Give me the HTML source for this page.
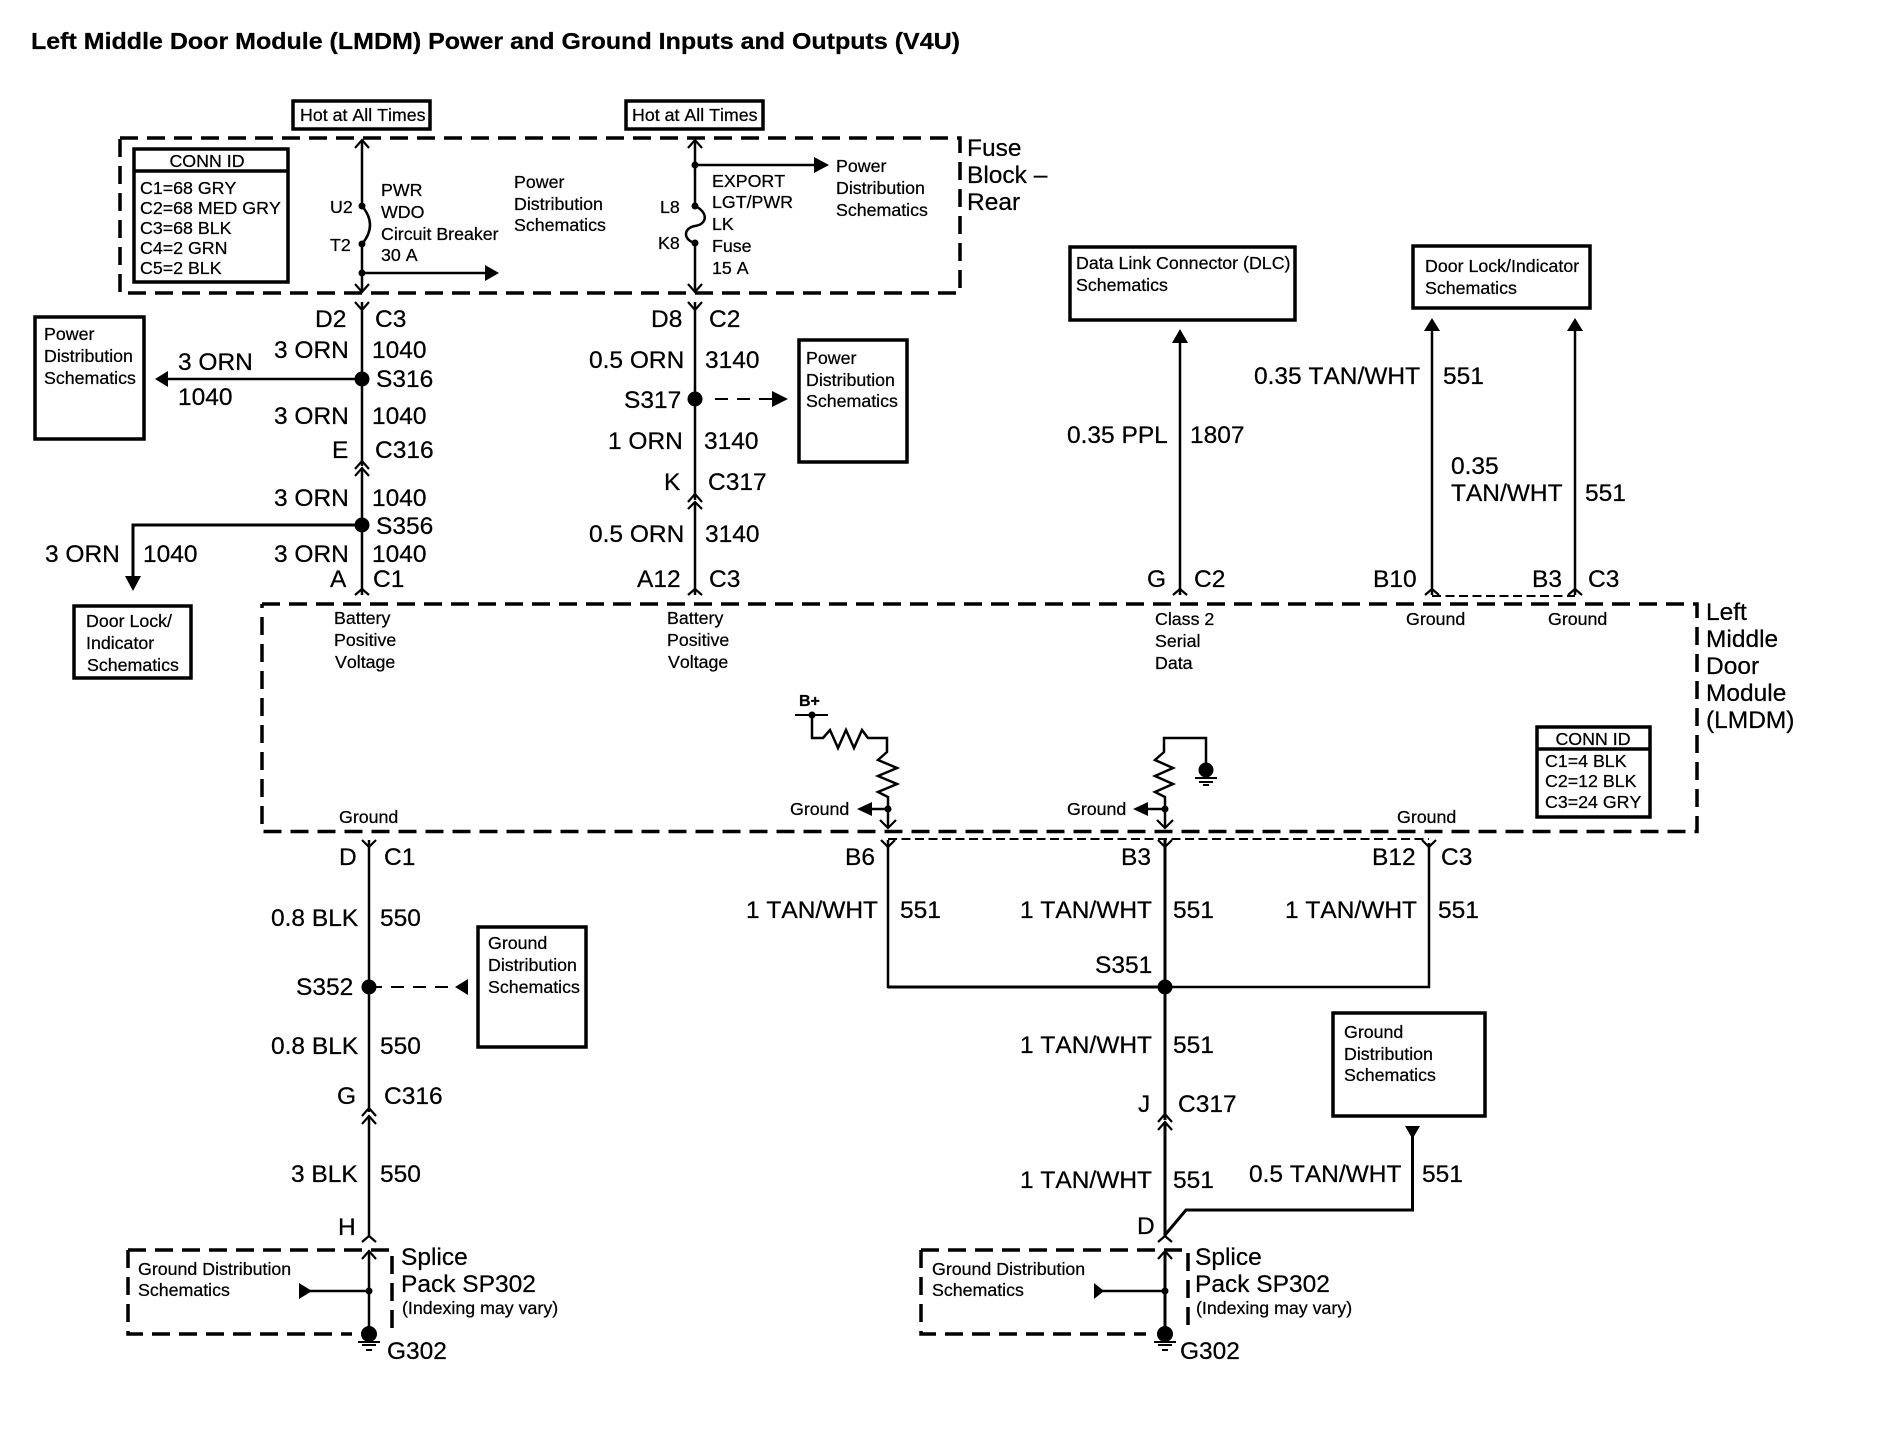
<!DOCTYPE html>
<html><head><meta charset="utf-8"><title>LMDM Power and Ground</title>
<style>
html,body{margin:0;padding:0;background:#fff}
svg{display:block}
text{font-family:"Liberation Sans",sans-serif;fill:#000;font-kerning:none;stroke:#000;stroke-width:.25px}
.b text{font-size:24.5px}
.s text{font-size:17.8px}
</style></head><body>
<svg width="1894" height="1440" viewBox="0 0 1894 1440" xmlns="http://www.w3.org/2000/svg">
<rect width="1894" height="1440" fill="#fff"/>
<text x="31" y="49" font-size="23" font-weight="bold" textLength="929" lengthAdjust="spacingAndGlyphs">Left Middle Door Module (LMDM) Power and Ground Inputs and Outputs (V4U)</text>

<!-- dashed boxes -->
<g fill="none" stroke="#000" stroke-width="3.5" stroke-dasharray="18 9">
<path d="M120 138H960V293H120V138"/>
<path d="M262 604H1697V831.5H262V604"/>
<path d="M128 1250H392V1334M128 1250V1334H352"/>
<path d="M921 1250H1188V1334M921 1250V1334H1146"/>
</g>
<path d="M888 839H1429M1432 596H1575" fill="none" stroke="#000" stroke-width="2" stroke-dasharray="9 4.5"/>

<!-- boxes -->
<g fill="none" stroke="#000" stroke-width="3.5">
<rect x="293" y="101" width="137" height="28"/>
<rect x="626" y="101" width="137" height="28"/>
<rect x="134" y="149" width="154" height="133"/>
<path d="M134 171H288"/>
<rect x="35" y="317" width="109" height="122"/>
<rect x="799" y="340" width="108" height="122"/>
<rect x="1070" y="247" width="225" height="73"/>
<rect x="1413" y="246" width="177" height="62"/>
<rect x="1537" y="727" width="113" height="90"/>
<path d="M1537 749H1650"/>
<rect x="478" y="927" width="108" height="120"/>
<rect x="1333" y="1013" width="152" height="103"/>
</g>

<!-- wires -->
<g fill="none" stroke="#000" stroke-width="2.5">
<path d="M362 140V206Q378 225 362 244V292M362 302V466M362 468V595"/>
<path d="M362 273H487"/>
<path d="M362 379H168"/>
<path d="M362 525H133V578" stroke-width="3"/>
<path d="M695 140V206C708 212 708 224 695 226C683 228 683 240 695 243V292M695 302V500M695 502V595"/>
<path d="M695 165H816"/>
<path d="M1180 341V595M1432 330V595M1575 330V595"/>
<path d="M369 840V1112M369 1116V1236M369 1251V1334"/>
<path d="M369 1291H301"/>
<path d="M1165 840V1120M1165 1122V1236M1165 1251V1334" stroke-width="3"/>
<path d="M1165 1291H1096"/>
<path d="M888 840V987H1429V843" stroke-width="2.5"/>
<path d="M1165 987H888" stroke-width="3"/>
<path d="M1165 1235L1186 1210H1412.5V1128" stroke-width="3"/>
<path d="M795 715H828" stroke-width="2"/>
<path d="M812 715V738H823L830 730L838 748L846 730L854 748L862 730L868 738H887V752L878 760L897 768L878 776L897 784L878 792L888 797V828" stroke-width="2.5"/>
<path d="M888 809H870"/>
<path d="M1206 763V738H1164V752L1155 760L1173 768L1155 776L1173 784L1155 792L1165 797V828" stroke-width="2.5"/>
<path d="M1165 809H1146"/>
</g>
<path d="M715 399H772M369 987H455" fill="none" stroke="#000" stroke-width="2" stroke-dasharray="13 9"/>
<path d="M1195 778H1217M1199 782H1213M1203 785H1209M358 1342H380M362 1345H376M366 1350H372M1154 1342H1176M1158 1345H1172M1162 1350H1168" fill="none" stroke="#000" stroke-width="2"/>

<!-- chevrons -->
<g fill="none" stroke="#000" stroke-width="2.2">
<path d="M355 148L362 140L369 148M355 284L362 292L369 284M355 302L362 310L369 302M355 469L362 461L369 469M355 476L362 468L369 476M355 595L362 589L369 595"/>
<path d="M688 148L695 140L702 148M688 284L695 292L702 284M688 302L695 310L702 302M688 502L695 494L702 502M688 509L695 502L702 509M688 595L695 589L702 595"/>
<path d="M1173 595L1180 589L1187 595M1425 595L1432 589L1439 595M1568 595L1575 589L1582 595"/>
<path d="M362 840L369 847L376 840M362 1116L369 1108L376 1116M362 1124L369 1116L376 1124M362 1242L369 1236L376 1242M362 1259L369 1251L376 1259"/>
<path d="M881 840L888 847L895 840M1158 840L1165 847L1172 840M1422 840L1429 847L1436 840M880 820L888 828L896 820M1157 820L1165 828L1173 820"/>
<path d="M1158 1122L1165 1114L1172 1122M1158 1130L1165 1122L1172 1130M1158 1242L1165 1236L1172 1242M1158 1259L1165 1251L1172 1259"/>
</g>

<!-- arrowheads -->
<g fill="#000">
<path d="M499 273L485 265V281ZM829 165L814 157V173ZM155 379L168 371V387ZM133 591L125 576H141ZM788 399L772 391V407Z"/>
<path d="M1180 329L1172 343H1188ZM1432 318L1424 331H1440ZM1575 318L1567 331H1583Z"/>
<path d="M455 987L468 979V995ZM312 1291L299 1283V1299ZM1104 1291L1094 1283V1299ZM1412.5 1139L1405 1126H1420Z"/>
<path d="M857 809L872 802V816ZM1133 809L1148 802V816Z"/>
<circle cx="362" cy="379" r="7.5"/><circle cx="362" cy="525" r="7.5"/><circle cx="695" cy="399" r="7.5"/>
<circle cx="369" cy="987" r="7.5"/><circle cx="1165" cy="987" r="7.5"/>
<circle cx="369" cy="1334" r="8"/><circle cx="1165" cy="1334" r="8"/><circle cx="1206" cy="770" r="7.5"/>
<circle cx="362" cy="206" r="3.5"/><circle cx="362" cy="244" r="3.5"/><circle cx="362" cy="273" r="3.5"/>
<circle cx="695" cy="206" r="3.5"/><circle cx="695" cy="243" r="3.5"/><circle cx="695" cy="165" r="3.5"/>
<circle cx="812" cy="715" r="3.5"/><circle cx="888" cy="809" r="3.5"/><circle cx="1165" cy="809" r="3.5"/>
<circle cx="369" cy="1291" r="3.5"/><circle cx="1165" cy="1291" r="3.5"/>
</g>

<!-- large text -->
<g class="b">
<text x="967" y="156">Fuse</text><text x="967" y="183">Block –</text><text x="967" y="210">Rear</text>
<text x="315" y="327">D2</text><text x="375" y="327">C3</text>
<text x="274" y="358">3 ORN</text><text x="372" y="358">1040</text>
<text x="178" y="370">3 ORN</text><text x="178" y="405">1040</text>
<text x="376" y="387">S316</text>
<text x="274" y="424">3 ORN</text><text x="372" y="424">1040</text>
<text x="332" y="458">E</text><text x="375" y="458">C316</text>
<text x="274" y="506">3 ORN</text><text x="372" y="506">1040</text>
<text x="376" y="534">S356</text>
<text x="45" y="562">3 ORN</text><text x="143" y="562">1040</text>
<text x="274" y="562">3 ORN</text><text x="372" y="562">1040</text>
<text x="330" y="587">A</text><text x="373" y="587">C1</text>

<text x="651" y="327">D8</text><text x="709" y="327">C2</text>
<text x="589" y="368">0.5 ORN</text><text x="705" y="368">3140</text>
<text x="624" y="408">S317</text>
<text x="608" y="449">1 ORN</text><text x="704" y="449">3140</text>
<text x="664" y="490">K</text><text x="708" y="490">C317</text>
<text x="589" y="542">0.5 ORN</text><text x="705" y="542">3140</text>
<text x="637" y="587">A12</text><text x="709" y="587">C3</text>

<text x="1067" y="443">0.35 PPL</text><text x="1190" y="443">1807</text>
<text x="1254" y="384">0.35 TAN/WHT</text><text x="1443" y="384">551</text>
<text x="1451" y="474">0.35</text><text x="1451" y="501">TAN/WHT</text><text x="1585" y="501">551</text>
<text x="1147" y="587">G</text><text x="1194" y="587">C2</text>
<text x="1373" y="587">B10</text><text x="1532" y="587">B3</text><text x="1588" y="587">C3</text>

<text x="1706" y="620">Left</text><text x="1706" y="647">Middle</text><text x="1706" y="674">Door</text><text x="1706" y="701">Module</text><text x="1706" y="728">(LMDM)</text>

<text x="339" y="865">D</text><text x="384" y="865">C1</text>
<text x="271" y="926">0.8 BLK</text><text x="380" y="926">550</text>
<text x="296" y="995">S352</text>
<text x="271" y="1054">0.8 BLK</text><text x="380" y="1054">550</text>
<text x="337" y="1104">G</text><text x="384" y="1104">C316</text>
<text x="291" y="1182">3 BLK</text><text x="380" y="1182">550</text>
<text x="338" y="1235">H</text>
<text x="401" y="1265">Splice</text><text x="401" y="1292">Pack SP302</text>
<text x="387" y="1359">G302</text>

<text x="845" y="865">B6</text><text x="1121" y="865">B3</text><text x="1372" y="865">B12</text><text x="1441" y="865">C3</text>
<text x="746" y="918">1 TAN/WHT</text><text x="900" y="918">551</text>
<text x="1020" y="918">1 TAN/WHT</text><text x="1173" y="918">551</text>
<text x="1285" y="918">1 TAN/WHT</text><text x="1438" y="918">551</text>
<text x="1095" y="973">S351</text>
<text x="1020" y="1053">1 TAN/WHT</text><text x="1173" y="1053">551</text>
<text x="1138" y="1112">J</text><text x="1178" y="1112">C317</text>
<text x="1020" y="1188">1 TAN/WHT</text><text x="1173" y="1188">551</text>
<text x="1249" y="1182">0.5 TAN/WHT</text><text x="1422" y="1182">551</text>
<text x="1137" y="1234">D</text>
<text x="1195" y="1265">Splice</text><text x="1195" y="1292">Pack SP302</text>
<text x="1180" y="1359">G302</text>
</g>

<!-- small text -->
<g class="s">
<text x="300" y="121">Hot at All Times</text><text x="632" y="121">Hot at All Times</text>
<text x="207" y="167" text-anchor="middle">CONN ID</text>
<text x="140" y="194">C1=68 GRY</text><text x="140" y="214">C2=68 MED GRY</text><text x="140" y="234">C3=68 BLK</text><text x="140" y="254">C4=2 GRN</text><text x="140" y="274">C5=2 BLK</text>
<text x="330" y="213">U2</text><text x="330" y="251">T2</text>
<text x="381" y="196">PWR</text><text x="381" y="218">WDO</text><text x="381" y="240">Circuit Breaker</text><text x="381" y="261">30 A</text>
<text x="514" y="188">Power</text><text x="514" y="210">Distribution</text><text x="514" y="231">Schematics</text>
<text x="660" y="213">L8</text><text x="658" y="249">K8</text>
<text x="712" y="187">EXPORT</text><text x="712" y="208">LGT/PWR</text><text x="712" y="230">LK</text><text x="712" y="252">Fuse</text><text x="712" y="274">15 A</text>
<text x="836" y="172">Power</text><text x="836" y="194">Distribution</text><text x="836" y="216">Schematics</text>
<text x="44" y="340">Power</text><text x="44" y="362">Distribution</text><text x="44" y="384">Schematics</text>
<text x="806" y="364">Power</text><text x="806" y="386">Distribution</text><text x="806" y="407">Schematics</text>
<text x="1076" y="269">Data Link Connector (DLC)</text><text x="1076" y="291">Schematics</text>
<text x="1425" y="272">Door Lock/Indicator</text><text x="1425" y="294">Schematics</text>
<text x="86" y="627">Door Lock/</text><text x="86" y="649">Indicator</text><text x="87" y="671">Schematics</text>
<text x="334" y="624">Battery</text><text x="334" y="646">Positive</text><text x="335" y="668">Voltage</text>
<text x="667" y="624">Battery</text><text x="667" y="646">Positive</text><text x="668" y="668">Voltage</text>
<text x="1155" y="625">Class 2</text><text x="1155" y="647">Serial</text><text x="1155" y="669">Data</text>
<text x="1406" y="625">Ground</text><text x="1548" y="625">Ground</text>
<text x="1593" y="745" text-anchor="middle">CONN ID</text>
<text x="1545" y="767">C1=4 BLK</text><text x="1545" y="787">C2=12 BLK</text><text x="1545" y="808">C3=24 GRY</text>
<text x="799" y="706" font-weight="bold" style="font-size:16px">B+</text>
<text x="790" y="815">Ground</text><text x="1067" y="815">Ground</text>
<text x="339" y="823">Ground</text><text x="1397" y="823">Ground</text>
<text x="488" y="949">Ground</text><text x="488" y="971">Distribution</text><text x="488" y="993">Schematics</text>
<text x="1344" y="1038">Ground</text><text x="1344" y="1060">Distribution</text><text x="1344" y="1081">Schematics</text>
<text x="138" y="1275">Ground Distribution</text><text x="138" y="1296">Schematics</text>
<text x="932" y="1275">Ground Distribution</text><text x="932" y="1296">Schematics</text>
<text x="402" y="1314">(Indexing may vary)</text><text x="1196" y="1314">(Indexing may vary)</text>
</g>

<!-- Door Lock/Indicator left box -->
<rect x="74" y="606" width="117" height="72" fill="none" stroke="#000" stroke-width="3.5"/>
</svg>
</body></html>
